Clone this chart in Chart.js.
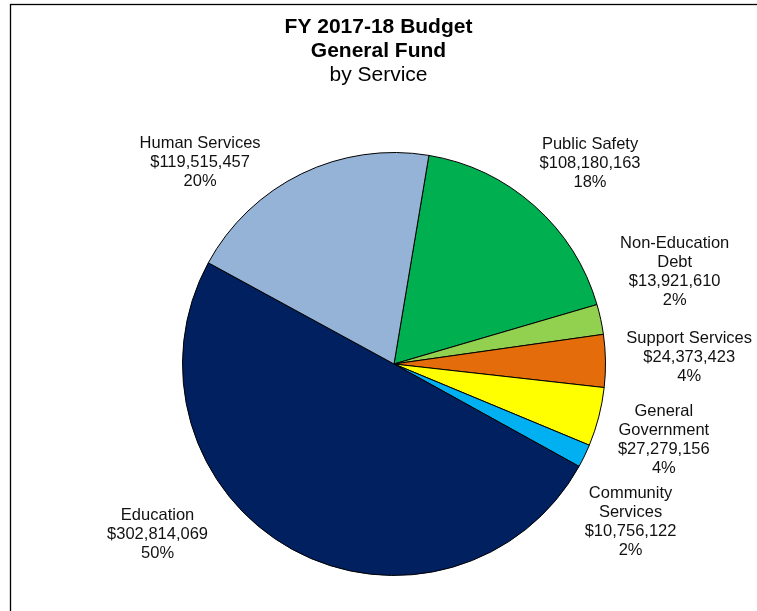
<!DOCTYPE html>
<html>
<head>
<meta charset="utf-8">
<script src="https://cdn.jsdelivr.net/npm/chart.js@4.4.1/dist/chart.umd.min.js"></script>
<style>
  html, body { margin: 0; padding: 0; background: #ffffff; }
  #wrap { width: 757px; height: 611px; position: relative; }
</style>
</head>
<body>
<div id="wrap"><canvas id="c" width="757" height="611"></canvas></div>
<script>
// ---- Data ----
const titleLines = ["FY 2017-18 Budget", "General Fund", "by Service"];
const categories = [
  "Public Safety",
  "Non-Education\nDebt",
  "Support Services",
  "General\nGovernment",
  "Community\nServices",
  "Education",
  "Human Services"
];
const amounts = [108180163, 13921610, 24373423, 27279156, 10756122, 302814069, 119515457];
const sliceColors = ["#00B050", "#92D050", "#E46C0A", "#FFFF00", "#00B0F0", "#002060", "#95B3D7"];

// ---- Label placement (angle shift from slice mid-angle in degrees, distance as multiple of radius) ----
const labelAngleShift = [2.8, -5.9, -0.4, 1.2, 7.9, 25.5, -18];
const labelDistance = [1.325, 1.396, 1.396, 1.325, 1.344, 1.377, 1.321];

const total = amounts.reduce((a, b) => a + b, 0);
const fmtMoney = v => "$" + v.toLocaleString("en-US");

const decorPlugin = {
  id: "decor",
  afterDraw(chart) {
    const ctx = chart.ctx;
    ctx.save();
    // frame
    ctx.strokeStyle = "#000";
    ctx.lineWidth = 1.3;
    ctx.strokeRect(10.5, 4.5, 900, 800);
    // title
    ctx.fillStyle = "#000";
    ctx.textAlign = "center";
    ctx.textBaseline = "middle";
    const cx = chart.width / 2;
    ctx.font = "bold 21px 'Liberation Sans', Arial, sans-serif";
    ctx.fillText(titleLines[0], cx, 27);
    ctx.fillText(titleLines[1], cx, 51);
    ctx.font = "21px 'Liberation Sans', Arial, sans-serif";
    ctx.fillText(titleLines[2], cx, 75);

    // slice labels
    const meta = chart.getDatasetMeta(0);
    ctx.font = "16.5px 'Liberation Sans', Arial, sans-serif";
    ctx.fillStyle = "#111";
    const lh = 19;
    meta.data.forEach((arc, i) => {
      const p = arc.getProps(["x", "y", "startAngle", "endAngle", "outerRadius"], true);
      const mid = (p.startAngle + p.endAngle) / 2 + labelAngleShift[i] * Math.PI / 180;
      const d = p.outerRadius * labelDistance[i];
      const lx = p.x + Math.cos(mid) * d;
      const ly = p.y + Math.sin(mid) * d;
      const pct = Math.round(amounts[i] / total * 100) + "%";
      const lines = categories[i].split("\n").concat([fmtMoney(amounts[i]), pct]);
      const top = ly - (lines.length - 1) * lh / 2;
      lines.forEach((t, k) => ctx.fillText(t, lx, top + k * lh));
    });
    ctx.restore();
  }
};

new Chart(document.getElementById("c"), {
  type: "pie",
  data: {
    labels: categories.map(c => c.replace("\n", " ")),
    datasets: [{
      data: amounts,
      backgroundColor: sliceColors,
      borderColor: "#000",
      borderWidth: 1,
      hoverOffset: 0
    }]
  },
  options: {
    responsive: false,
    animation: false,
    rotation: 9.5,
    layout: { padding: { left: 182, right: 151, top: 152, bottom: 35 } },
    plugins: {
      legend: { display: false },
      tooltip: { enabled: false },
      title: { display: false }
    }
  },
  plugins: [decorPlugin]
});
</script>
</body>
</html>
